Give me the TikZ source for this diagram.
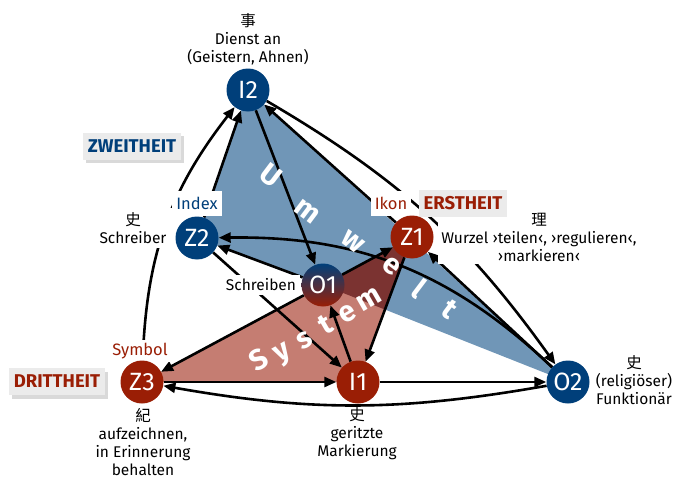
\documentclass[tikz,border=0pt]{standalone}
\usepackage{fontspec}
\setmainfont{Fira Sans}
\newfontfamily\cjk{Noto Sans CJK TC}
\usetikzlibrary{arrows.meta,shadows}
\definecolor{signblue}{HTML}{003F7A}
\definecolor{signred}{HTML}{9A1E05}
\definecolor{umwelt}{HTML}{7096B7}
\definecolor{system}{HTML}{C57D72}
\definecolor{overlap}{HTML}{7B3331}
\definecolor{boxgray}{HTML}{EBEBEB}
\pgfdeclarelayer{bg}
\pgfdeclarelayer{edges}
\pgfsetlayers{bg,edges,main}
\tikzset{
  sign/.style={circle,minimum size=43pt,inner sep=0pt,text=white,font=\fontsize{25}{25}\selectfont},
  bluesign/.style={sign,fill=signblue},
  redsign/.style={sign,fill=signred},
  gloss/.style={align=center,font=\fontsize{15.5}{18}\selectfont,inner sep=1pt,fill=white},
  tag/.style={font=\fontsize{16.5}{16.5}\selectfont,fill=white,inner xsep=4pt,minimum height=25pt},
  grade/.style={font=\bfseries\fontsize{18.5}{18.5}\selectfont,fill=boxgray,minimum height=27pt,inner xsep=5pt},
  rel/.style={line width=2.6pt,-{Triangle[length=12pt,width=10pt]}},
  bigword/.style={text=white,font=\bfseries\fontsize{29}{29}\selectfont,text height=15pt,text depth=0pt,inner sep=0pt},
}
\begin{document}
\begin{tikzpicture}[x=1pt,y=-1pt]
\useasboundingbox (0,0) rectangle (673,479);
% glosses and tags
\node[gloss] (I2gloss) at (248,39) {{\cjk 事}\\Dienst an\\(Geistern, Ahnen)};
\node[gloss,inner xsep=6pt,inner ysep=4pt] (Z2gloss) at (133,228) {{\cjk 史}\\Schreiber};
\node[gloss,inner sep=3pt] (Z1gloss) at (539,237) {{\cjk 理}\\Wurzel ›teilen‹, ›regulieren‹,\\›markieren‹};
\node[gloss] (Z3gloss) at (143,442) {{\cjk 紀}\\aufzeichnen,\\in Erinnerung\\behalten};
\node[gloss,inner xsep=14pt] (I1char) at (357,415) {\cjk 史};
\node[gloss] (I1gloss) at (357,443) {geritzte\\Markierung};
\node[gloss] (O2gloss) at (634,380) {{\cjk 史}\\(religiöser)\\Funktionär};
\node[tag,text=signblue] (Z2tag) at (197,203) {Index};
\node[tag,text=signred] (Z1tag) at (391,203) {Ikon};
\node[tag,text=signred,minimum height=18pt] (Z3tag) at (140,351) {Symbol};
\node[gloss,inner xsep=4pt,inner ysep=4pt] (O1tag) at (261,285) {Schreiben};
\node[grade,text=signblue,drop shadow={shadow xshift=3pt,shadow yshift=-3pt,opacity=.3}] (second) at (132,146) {ZWEITHEIT};
\node[grade,text=signred] (first) at (463,203) {ERSTHEIT};
\node[grade,text=signred,drop shadow={shadow xshift=3pt,shadow yshift=-4pt,opacity=.3}] (third) at (57,381) {DRITTHEIT};
% signs
\node[bluesign] (I2) at (248,90) {I2};
\node[bluesign] (Z2) at (197,238) {Z2};
\node[redsign] (Z1) at (412,237) {Z1};
\node[sign,top color=signblue,bottom color=signred] (O1) at (323,285) {O1};
\node[redsign] (Z3) at (142,382) {Z3};
\node[redsign] (I1) at (358,382) {I1};
\node[bluesign] (O2) at (568,382) {O2};
% areas
\begin{pgfonlayer}{bg}
\fill[umwelt] (I2.center)--(Z2.center)--(O1.center)--(O2.center)--cycle;
\fill[system] (Z3.center)--(Z1.center)--(I1.center)--cycle;
\begin{scope}
\clip (I2.center)--(Z2.center)--(O1.center)--(O2.center)--cycle;
\fill[overlap] (Z3.center)--(Z1.center)--(I1.center)--cycle;
\end{scope}
\end{pgfonlayer}
% relations
\begin{pgfonlayer}{edges}
\draw[rel] (Z3) to[bend left=18] (I2);
\draw[rel] (Z2) -- (I2);
\draw[rel] (I2) -- (O1);
\draw[rel] (Z1) -- (I2);
\draw[rel] (I2) to[bend left=12] (O2);
\draw[rel] (O2) to[bend right=22] (Z2);
\draw[rel] (O2) -- (Z1);
\draw[rel] (O1) -- (Z2);
\draw[rel] (Z2) -- (I1);
\draw[rel] (O1) -- (Z1);
\draw[rel] (O1) -- (Z3);
\draw[rel] (I1) -- (O1);
\draw[rel] (Z1) -- (I1);
\draw[rel] (Z3) -- (I1);
\draw[rel] (I1) -- (O2);
\draw[rel] (O2) to[bend left=10] (Z3);
\end{pgfonlayer}
% area names
\foreach \ch/\x/\y [count=\i] in {U/270/177,m/307/212,w/353/242,e/391/266,l/417/291,t/448/311}
  \node[bigword,rotate=-37] (umw\i) at (\x,\y) {\ch};
\foreach \ch/\x/\y [count=\i] in {S/260/362,y/282/352,s/305/341,t/327/326,e/348/314,m/369/300}
  \node[bigword,rotate=30] (sys\i) at (\x,\y) {\ch};
\end{tikzpicture}
\end{document}
